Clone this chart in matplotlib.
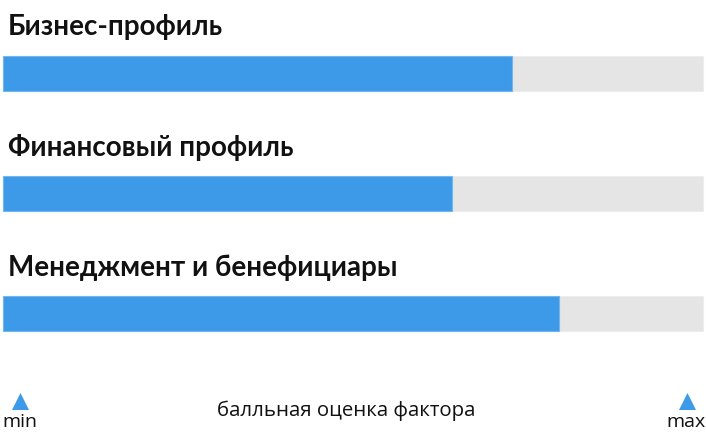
import matplotlib
matplotlib.use("Agg")
import matplotlib.pyplot as plt

categories = ["Бизнес-профиль", "Финансовый профиль", "Менеджмент и бенефициары"]
scores = [72.7, 64.2, 79.4]
score_max = 100
axis_label = "балльная оценка фактора"
min_label = "min"
max_label = "max"

W, H = 706, 437
fig = plt.figure(figsize=(W / 100, H / 100), dpi=100)
ax = fig.add_axes([0, 0, 1, 1])
px = score_max / 700.0
ax.set_xlim(-3 * px, score_max + 3 * px)
ax.set_ylim(H, 0)
ax.axis("off")

bar_centers = [73, 193, 313]
title_base = [35, 156, 276]
blue = "#3d9ae8"
grey = "#e5e5e5"

for c, s, yc, yt in zip(categories, scores, bar_centers, title_base):
    ax.barh(yc, score_max, height=35, left=0, color=grey, edgecolor="#ededed", linewidth=0.8)
    ax.barh(yc, s, height=35, left=0, color=blue, edgecolor="#72b5ef", linewidth=0.8)
    ax.text(5 * px, yt, c, fontsize=20, fontweight="bold", family="Lato",
            color="#111111", ha="left", va="baseline")

ax.scatter([17 * px, score_max - 16 * px], [401, 401], marker="^", s=150,
           color=blue, linewidths=0)
ax.text(-1 * px, 427, min_label, fontsize=14, family="Open Sans", color="#111111",
        ha="left", va="baseline")
ax.text(score_max + 3 * px, 427, max_label, fontsize=14, family="Open Sans", color="#111111",
        ha="right", va="baseline")
ax.text(49.0, 416, axis_label, fontsize=14.7, family="Open Sans", color="#111111",
        ha="center", va="baseline")

fig.savefig("out.png", dpi=100)
